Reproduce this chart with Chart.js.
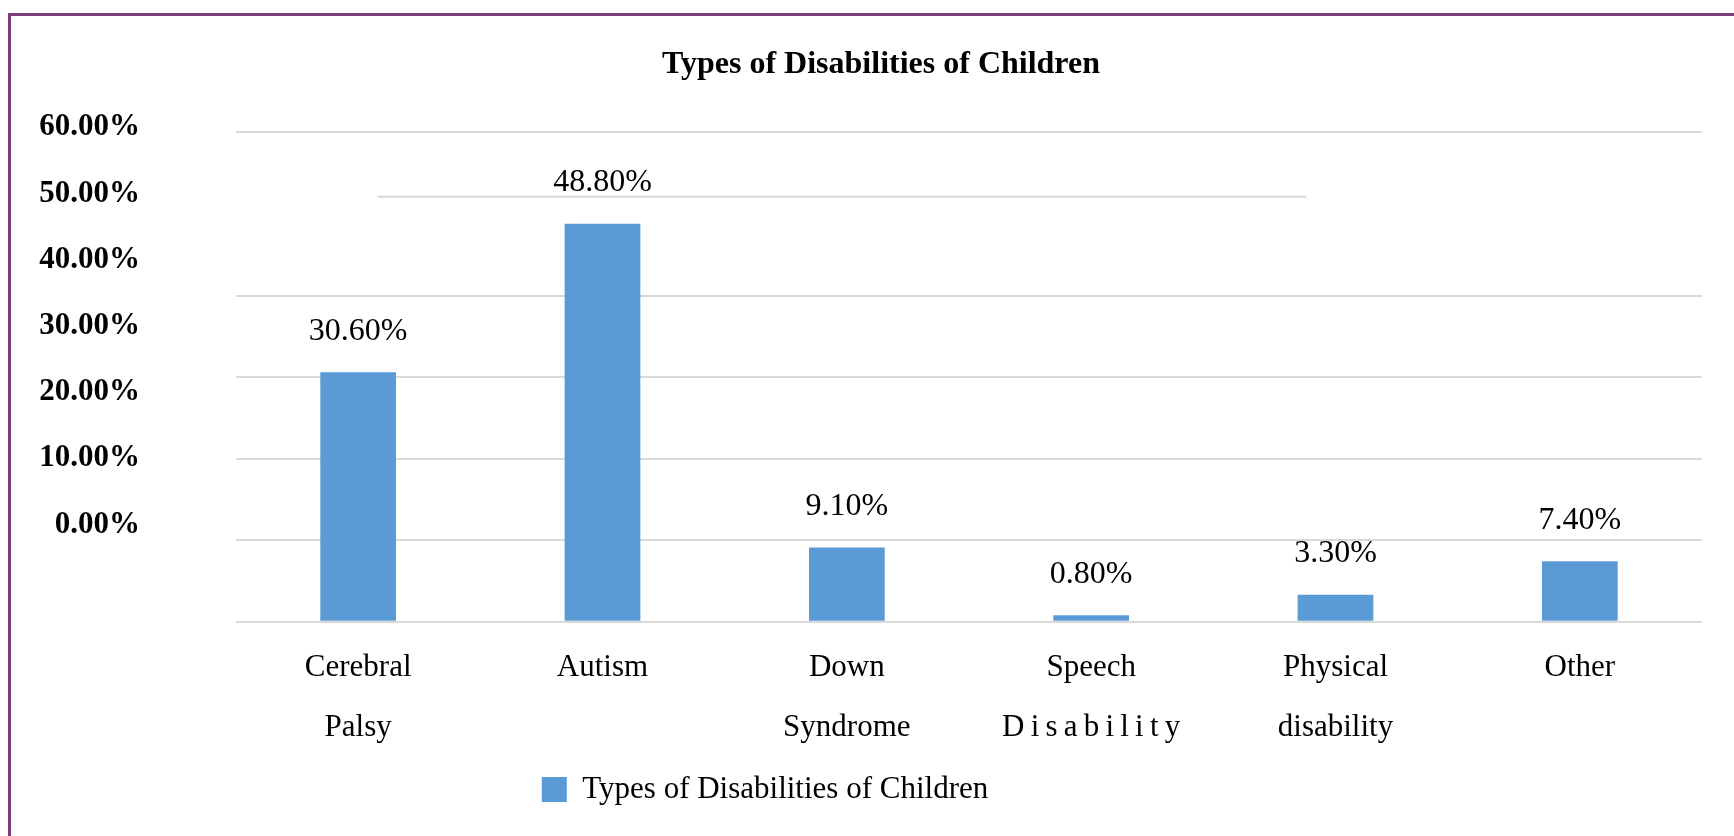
<!DOCTYPE html>
<html>
<head>
<meta charset="utf-8">
<script src="https://cdn.jsdelivr.net/npm/chart.js@4"></script>
<style>
  html, body { margin: 0; padding: 0; background: #fff; }
  #wrap { position: relative; width: 1734px; height: 836px; overflow: hidden; }
  #frame {
    position: absolute; left: 8px; top: 13px; right: -10px; bottom: -10px;
    border-top: 3px solid #7b3c7b; border-left: 3px solid #7b3c7b;
    pointer-events: none;
  }
  canvas { position: absolute; left: 0; top: 0; }
</style>
</head>
<body>
<div id="wrap">
  <canvas id="myBarChart" width="1734" height="836"></canvas>
  <div id="frame"></div>
</div>
<script>
// Categories (multi-line labels as in the picture)
var categories = [
    ['Cerebral', 'Palsy'],
    ['Autism'],
    ['Down', 'Syndrome'],
    ['Speech', 'D\u2009i\u2009s\u2009a\u2009b\u2009i\u2009l\u2009i\u2009t\u2009y'],
    ['Physical', 'disability'],
    ['Other']
];

// Series values in percent
var percentValues = [30.6, 48.8, 9.1, 0.8, 3.3, 7.4];

// Tick values shown on the (offset) value axis
var tickValues = [0, 10, 20, 30, 40, 50, 60];

var seriesName = 'Types of Disabilities of Children';

Chart.defaults.font.family = "'Liberation Serif', 'Times New Roman', serif";
Chart.defaults.color = '#000';

// Write the value above each bar
var barValueLabels = {
    id: 'barValueLabels',
    afterDatasetsDraw: function (chart) {
        var ctx = chart.ctx;
        var meta = chart.getDatasetMeta(0);
        ctx.save();
        ctx.font = "32px 'Liberation Serif', serif";
        ctx.fillStyle = '#000';
        ctx.textAlign = 'center';
        ctx.textBaseline = 'middle';
        meta.data.forEach(function (bar, i) {
            ctx.fillText(percentValues[i].toFixed(2) + '%', bar.x, bar.y - 41);
        });
        ctx.restore();
    }
};

// The short stray rule that sits where the 50% gridline should be
var strayRule = {
    id: 'strayRule',
    beforeDatasetsDraw: function (chart) {
        var x = chart.scales.x, y = chart.scales.y;
        var py = y.getPixelForValue(52.1);
        var ctx = chart.ctx;
        ctx.save();
        ctx.strokeStyle = '#d9d9d9';
        ctx.lineWidth = 2;
        ctx.beginPath();
        ctx.moveTo(x.getPixelForValue(0.08), py);
        ctx.lineTo(x.getPixelForValue(3.88), py);
        ctx.stroke();
        ctx.restore();
    }
};

// Title sits a little right of centre, legend left of centre
var boxShift = {
    id: 'boxShift',
    afterLayout: function (chart) {
        chart.titleBlock.left += 15;
        chart.titleBlock.right += 15;
        chart.legend.left -= 101;
        chart.legend.right -= 101;
    }
};

var ctx = document.getElementById('myBarChart').getContext('2d');

var myBarChart = new Chart(ctx, {
    type: 'bar',
    data: {
        labels: categories,
        datasets: [{
            label: seriesName,
            data: percentValues,
            backgroundColor: '#5b9bd5',
            barPercentage: 0.31,
            categoryPercentage: 1.0
        }]
    },
    options: {
        responsive: false,
        animation: false,
        layout: {
            padding: { left: 30, right: 32, top: 0, bottom: 21 }
        },
        scales: {
            x: {
                grid: { display: false },
                border: { display: false },
                ticks: {
                    autoSkip: false,
                    maxRotation: 0,
                    padding: 8,
                    font: { size: 31, lineHeight: 1.94 }
                }
            },
            y: {
                min: 0,
                max: 60,
                ticks: { display: false, stepSize: 10 },
                border: { display: false },
                grid: {
                    drawTicks: false,
                    lineWidth: 2,
                    color: function (c) {
                        return c.tick && c.tick.value === 50 ? 'rgba(0,0,0,0)' : '#d9d9d9';
                    }
                },
                afterFit: function (axis) { axis.width = 0; }
            },
            yLabels: {
                type: 'linear',
                position: 'left',
                min: -13.9,
                max: 60,
                grid: { display: false },
                border: { display: false },
                afterBuildTicks: function (axis) {
                    axis.ticks = tickValues.map(function (v) { return { value: v }; });
                },
                afterFit: function (axis) { axis.width = 206; },
                ticks: {
                    padding: 88,
                    labelOffset: -5,
                    font: { size: 31, weight: 'bold' },
                    callback: function (v) {
                        return v < 0 ? '' : v.toFixed(2) + '%';
                    }
                }
            }
        },
        plugins: {
            title: {
                display: true,
                text: seriesName,
                font: { size: 32, weight: 'bold' },
                padding: { top: 46, bottom: 48 }
            },
            legend: {
                display: true,
                position: 'bottom',
                labels: {
                    boxWidth: 25,
                    boxHeight: 25,
                    padding: 8,
                    font: { size: 31 }
                }
            },
            tooltip: { enabled: false }
        }
    },
    plugins: [barValueLabels, strayRule, boxShift]
});
</script>
</body>
</html>
